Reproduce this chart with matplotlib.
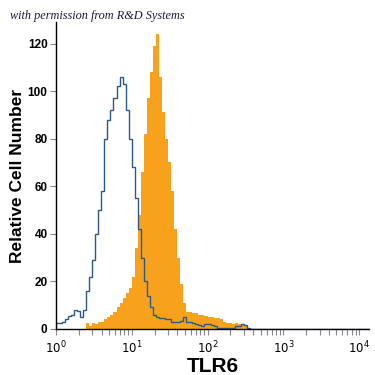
import numpy as np
import matplotlib
matplotlib.use("Agg")
import matplotlib.pyplot as plt
from matplotlib.ticker import LogLocator, NullFormatter, FixedLocator

# log10 channel bins: 0.00 .. 2.60 in steps of 0.04 decade
bin_start_exp = 0.0
bin_step_exp = 0.04

isotype_counts = [2.5, 2.5, 3, 4, 5.5, 6, 8, 7.5, 5, 8,
                  16, 22, 29, 40, 50, 58, 80, 88, 92, 97,
                  102, 106, 103, 92, 80, 68, 55, 42, 30, 20,
                  14, 9, 6, 5, 4.5, 4.5, 4, 4, 3, 3,
                  3, 3.5, 5, 3, 3, 2.5, 2, 1.5, 1, 2,
                  2, 1.5, 1, 0.5, 0.5, 0.5, 0.5, 0.5, 0.5, 1,
                  1, 2, 1.5, 0.5, 0]

tlr6_counts = [0, 0, 0, 0, 0, 0, 0, 0, 0, 0,
               2.5, 1, 2.5, 2, 3, 3, 4, 5, 6, 7,
               9, 11, 13, 15, 17, 22, 34, 48, 66, 82,
               97, 108, 119, 124, 106, 91, 80, 70, 58, 42,
               30, 19, 11, 7, 7, 6.5, 6.5, 6, 6, 5.5,
               5, 5, 4.5, 4.5, 4, 3, 2.5, 2.5, 2, 2.5,
               2, 1.5, 1, 0.5, 0]

x_tick_values = [1, 10, 100, 1000, 10000]
x_tick_labels = [r"$10^{0}$", r"$10^{1}$", r"$10^{2}$", r"$10^{3}$", r"$10^{4}$"]
y_tick_values = [0, 20, 40, 60, 80, 100, 120]

n = len(isotype_counts)
edges = 10 ** (bin_start_exp + bin_step_exp * np.arange(n + 1))

fig = plt.figure(figsize=(3.75, 3.75), dpi=100)
ax = fig.add_axes([0.149, 0.123, 0.835, 0.818])

ax.stairs(tlr6_counts, edges, fill=True, color="#F8A11C", linewidth=0)
ax.stairs(isotype_counts, edges, color="#2A5A86", linewidth=1.0)
ax.plot([edges[-1], 10 ** 4.13], [0, 0], color="#2A5A86", linewidth=1.0)

ax.set_xscale("log")
ax.set_xlim(1, 10 ** 4.13)
ax.set_ylim(0, 129)

for s in ["top", "right"]:
    ax.spines[s].set_visible(False)
for s in ["left", "bottom"]:
    ax.spines[s].set_color("black")
    ax.spines[s].set_linewidth(1.0)

ax.xaxis.set_major_locator(FixedLocator(x_tick_values))
ax.set_xticklabels(x_tick_labels)
ax.xaxis.set_minor_locator(LogLocator(base=10, subs=np.arange(2, 10)))
ax.xaxis.set_minor_formatter(NullFormatter())
ax.set_yticks(y_tick_values)

ax.tick_params(axis="both", which="both", direction="out", color="#888888",
               width=0.8, length=4)
ax.tick_params(axis="x", which="major", labelsize=8.5, pad=4)
ax.tick_params(axis="y", which="major", labelsize=8.5, pad=2)
for lab in ax.get_yticklabels():
    lab.set_fontweight("bold")
    lab.set_fontfamily("Liberation Sans")
for lab in ax.get_xticklabels():
    lab.set_fontweight("bold")

ax.set_xlabel("TLR6", fontsize=15, fontweight="bold", family="Liberation Sans", labelpad=0)
ax.set_ylabel("Relative Cell Number", fontsize=12.5, fontweight="bold",
              family="Liberation Sans", labelpad=2)

fig.text(0.027, 0.957, "with permission from R&D Systems", fontsize=8.8,
         style="italic", family="Liberation Serif", color="#1a1a40", va="center")

fig.savefig("out.png", dpi=100)
